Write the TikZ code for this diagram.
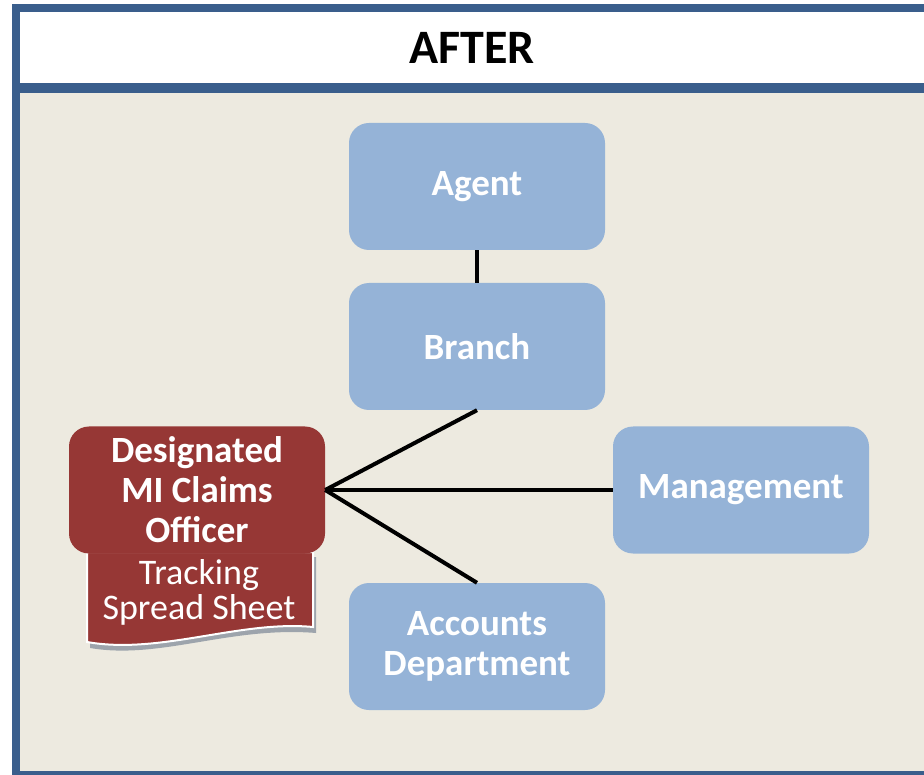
\documentclass[tikz,border=0pt]{standalone}
\usepackage{fontspec}
\setmainfont{Carlito}
\definecolor{frameblue}{RGB}{58,94,140}
\definecolor{panelbeige}{RGB}{237,234,224}
\definecolor{boxblue}{RGB}{149,179,215}
\definecolor{boxred}{RGB}{150,55,53}
\definecolor{shadowcol}{RGB}{60,80,110}
\tikzset{
  bluebox/.style={rectangle, rounded corners=20pt, fill=boxblue, minimum width=256pt, minimum height=127pt, text=white, align=center, font=\bfseries\fontsize{37}{40}\selectfont, inner sep=0pt},
  redbox/.style={bluebox, fill=boxred},
  link/.style={draw=black, line width=4pt},
}
\begin{document}
\begin{tikzpicture}[x=1pt,y=-1pt]
\useasboundingbox (0,0) rectangle (924,775);
% frame
\fill[white] (0,0) rectangle (924,775);
\fill[frameblue] (12,4) rectangle (930,775);
\fill[white] (20,12) rectangle (930,83);
\fill[panelbeige] (20,93) rectangle (930,771);
\node[font=\bfseries\fontsize{48}{52}\selectfont] (title) at (472,48) {AFTER};
% tracking document
\fill[shadowcol, opacity=0.45] (90,557) -- (316,557) -- (316,633) .. controls (230,626) and (160,660) .. (90,648) -- cycle;
\path[draw=white, line width=2pt, fill=boxred] (87,552) -- (313,552) -- (313,627) .. controls (240,620) and (160,655) .. (87,642) -- cycle;
\node[text=white, align=center, font=\fontsize{36}{35}\selectfont] (track) at (199,592) {Tracking\\Spread Sheet};
% nodes
\node[bluebox] (agent) at (477,186.5) {Agent};
\node[bluebox] (branch) at (477,346.5) {Branch};
\node[bluebox] (mgmt) at (741,490) {Management};
\node[bluebox] (acct) at (477,646.5) {Accounts\\Department};
\node[redbox] (dmco) at (197,490) {Designated\\MI Claims\\Officer};
% connectors
\draw[link] (agent.south) -- (branch.north);
\draw[link] (branch.south) -- (dmco.east);
\draw[link] (dmco.east) -- (mgmt.west);
\draw[link] (dmco.east) -- (acct.north);
\end{tikzpicture}
\end{document}
